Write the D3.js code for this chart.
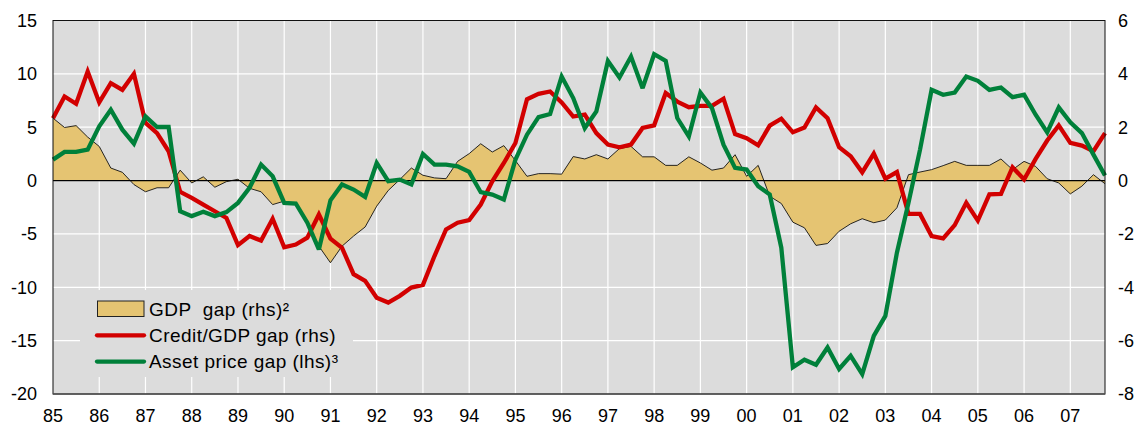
<!DOCTYPE html>
<html>
<head>
<meta charset="utf-8">
<script src="https://cdn.jsdelivr.net/npm/d3@7"></script>
<style>
  body { margin: 0; background: #ffffff; }
  text { font-family: "Liberation Sans", Arial, sans-serif; fill: #000000; white-space: pre; }
</style>
</head>
<body>
<div id="chart"></div>
<script>
// quarterly data, 1985 Q1 to 2007 Q4
const startYear = 1985;

// GDP gap, right-hand scale
const gdpGap = [
  2.34, 1.99, 2.06, 1.63, 1.28, 0.47, 0.31, -0.15, -0.42, -0.27, -0.27, 0.39,
  -0.09, 0.14, -0.25, -0.04, 0.05, -0.29, -0.42, -0.90, -0.77, -0.90, -1.58, -2.46,
  -3.08, -2.46, -2.08, -1.74, -0.96, -0.37, 0.04, 0.47, 0.20, 0.10, 0.07, 0.72,
  1.01, 1.38, 1.07, 1.31, 0.75, 0.16, 0.26, 0.26, 0.24, 0.90, 0.81, 0.97,
  0.81, 1.20, 1.28, 0.89, 0.89, 0.57, 0.57, 0.89, 0.66, 0.39, 0.47, 0.97,
  0.16, 0.57, -0.59, -0.86, -1.56, -1.77, -2.43, -2.36, -1.90, -1.62, -1.43, -1.58,
  -1.48, -1.02, 0.22, 0.32, 0.41, 0.56, 0.72, 0.57, 0.57, 0.57, 0.81, 0.41,
  0.72, 0.53, 0.07, -0.09, -0.50, -0.21, 0.22, -0.12
];

// Credit/GDP gap, right-hand scale
const creditGap = [
  2.34, 3.15, 2.88, 4.09, 2.93, 3.65, 3.40, 4.00, 2.16, 1.78, 1.10, -0.42,
  -0.65, -0.90, -1.15, -1.40, -2.42, -2.08, -2.25, -1.43, -2.50, -2.40, -2.14, -1.27,
  -2.18, -2.52, -3.51, -3.76, -4.39, -4.57, -4.32, -4.01, -3.91, -2.83, -1.83, -1.58,
  -1.48, -0.90, -0.03, 0.66, 1.41, 3.05, 3.25, 3.34, 2.93, 2.40, 2.47, 1.78,
  1.35, 1.25, 1.35, 1.97, 2.07, 3.28, 2.96, 2.75, 2.80, 2.80, 3.07, 1.74,
  1.59, 1.32, 2.06, 2.32, 1.81, 1.99, 2.74, 2.34, 1.25, 0.91, 0.31, 1.01,
  0.07, 0.32, -1.25, -1.25, -2.08, -2.17, -1.67, -0.83, -1.50, -0.52, -0.50, 0.50,
  0.04, 0.81, 1.50, 2.07, 1.41, 1.31, 1.10, 1.78
];

// Asset price gap, left-hand scale
const assetGap = [
  1.96, 2.68, 2.68, 2.90, 5.08, 6.64, 4.77, 3.46, 6.01, 5.02, 5.02, -2.87,
  -3.33, -2.93, -3.33, -2.96, -2.09, -0.68, 1.50, 0.40, -2.09, -2.15, -3.95, -6.45,
  -1.85, -0.37, -0.84, -1.53, 1.65, -0.06, 0.09, -0.37, 2.49, 1.50, 1.50, 1.34,
  0.81, -1.09, -1.31, -1.78, 1.96, 4.30, 5.95, 6.23, 9.75, 7.73, 4.92, 6.48,
  11.21, 9.66, 11.62, 8.66, 11.84, 11.21, 5.86, 4.14, 8.25, 6.79, 3.36, 1.19,
  1.03, -0.53, -1.31, -6.29, -17.50, -16.79, -17.26, -15.64, -17.66, -16.42, -18.13, -14.55,
  -12.68, -6.76, -2.09, 2.90, 8.50, 8.04, 8.25, 9.75, 9.35, 8.50, 8.72, 7.82,
  8.04, 6.17, 4.52, 6.85, 5.45, 4.45, 2.43, 0.47
];

const years = d3.range(1985, 2008);
const leftTicks = [15, 10, 5, 0, -5, -10, -15, -20];
const rightTicks = [6, 4, 2, 0, -2, -4, -6, -8];

const legendItems = [
  { label: "GDP  gap (rhs)²", type: "area" },
  { label: "Credit/GDP gap (rhs)", type: "credit" },
  { label: "Asset price gap (lhs)³", type: "asset" }
];

//set svg parameters
const width = 1136,
      height = 425;
const plot = { left: 53, right: 1105, top: 20.5, bottom: 394 };

const colors = {
  bg: "#dcdcdc",
  gdp: "#e5c472",
  credit: "#d20000",
  asset: "#00803a"
};

const svg = d3.select("#chart")
  .append("svg")
    .attr("width", width)
    .attr("height", height);

// scales
const x = d3.scaleLinear()
  .domain([startYear, startYear + (gdpGap.length - 1) / 4])
  .range([plot.left, plot.right]);

const yLeft = d3.scaleLinear()
  .domain([-20, 15])
  .range([plot.bottom, plot.top]);

const yRight = d3.scaleLinear()
  .domain([-8, 6])
  .range([plot.bottom, plot.top]);

const t = (d, i) => startYear + i / 4;

// plot background
svg.append("rect")
  .attr("x", plot.left)
  .attr("y", plot.top)
  .attr("width", plot.right - plot.left)
  .attr("height", plot.bottom - plot.top)
  .attr("fill", colors.bg);

// grid lines
const grid = svg.append("g").attr("stroke", "#ffffff").attr("stroke-width", 1.2);
grid.selectAll(".hgrid")
  .data(leftTicks.filter(d => d > -20 && d < 15))
  .join("line")
    .attr("x1", plot.left)
    .attr("x2", plot.right)
    .attr("y1", d => yLeft(d))
    .attr("y2", d => yLeft(d));
grid.selectAll(".vgrid")
  .data(years.filter(d => d > 1985))
  .join("line")
    .attr("x1", d => x(d))
    .attr("x2", d => x(d))
    .attr("y1", plot.top)
    .attr("y2", plot.bottom);

// legend box covers the grid
svg.append("rect")
  .attr("x", 80)
  .attr("y", 290)
  .attr("width", 273)
  .attr("height", 87)
  .attr("fill", colors.bg);

// GDP gap area
const area = d3.area()
  .x((d, i) => x(t(d, i)))
  .y0(yRight(0))
  .y1(d => yRight(d));

svg.append("path")
  .datum(gdpGap)
  .attr("d", area)
  .attr("fill", colors.gdp);

svg.append("path")
  .datum(gdpGap)
  .attr("d", d3.line().x((d, i) => x(t(d, i))).y(d => yRight(d)))
  .attr("fill", "none")
  .attr("stroke", "#111111")
  .attr("stroke-width", 0.9);

// zero line
svg.append("line")
  .attr("x1", plot.left)
  .attr("x2", plot.right)
  .attr("y1", yLeft(0))
  .attr("y2", yLeft(0))
  .attr("stroke", "#000000")
  .attr("stroke-width", 1.2);

// credit gap line
svg.append("path")
  .datum(creditGap)
  .attr("d", d3.line().x((d, i) => x(t(d, i))).y(d => yRight(d)))
  .attr("fill", "none")
  .attr("stroke", colors.credit)
  .attr("stroke-width", 4.3)
  .attr("stroke-linejoin", "miter")
  .attr("stroke-miterlimit", 3);

// asset price gap line
svg.append("path")
  .datum(assetGap)
  .attr("d", d3.line().x((d, i) => x(t(d, i))).y(d => yLeft(d)))
  .attr("fill", "none")
  .attr("stroke", colors.asset)
  .attr("stroke-width", 4.3)
  .attr("stroke-linejoin", "miter")
  .attr("stroke-miterlimit", 3);

// frame
svg.append("rect")
  .attr("x", plot.left)
  .attr("y", plot.top)
  .attr("width", plot.right - plot.left)
  .attr("height", plot.bottom - plot.top)
  .attr("fill", "none")
  .attr("stroke", "#111111")
  .attr("stroke-width", 1);
svg.append("line")
  .attr("x1", plot.left)
  .attr("x2", plot.right)
  .attr("y1", plot.bottom)
  .attr("y2", plot.bottom)
  .attr("stroke", "#555555")
  .attr("stroke-width", 1.6);

// axes labels
svg.append("g")
  .selectAll("text")
  .data(leftTicks)
  .join("text")
    .attr("x", 37)
    .attr("y", d => yLeft(d))
    .attr("dy", "0.35em")
    .attr("text-anchor", "end")
    .style("font-size", "18px")
    .text(d => d);

svg.append("g")
  .selectAll("text")
  .data(rightTicks)
  .join("text")
    .attr("x", 1118)
    .attr("y", d => yRight(d))
    .attr("dy", "0.35em")
    .attr("text-anchor", "start")
    .style("font-size", "18px")
    .text(d => d);

svg.append("g")
  .selectAll("text")
  .data(years)
  .join("text")
    .attr("x", d => x(d))
    .attr("y", 422)
    .attr("text-anchor", "middle")
    .style("font-size", "18px")
    .text(d => String(d).slice(2));

// legend
const legend = svg.append("g");
legendItems.forEach(function(item, i) {
  const cy = 309 + i * 26.3;
  if (item.type === "area") {
    legend.append("rect")
      .attr("x", 97.5)
      .attr("y", cy - 8)
      .attr("width", 46.5)
      .attr("height", 15.5)
      .attr("fill", colors.gdp)
      .attr("stroke", "#222222")
      .attr("stroke-width", 1);
  } else {
    legend.append("line")
      .attr("x1", 97)
      .attr("x2", 144)
      .attr("y1", cy)
      .attr("y2", cy)
      .attr("stroke", item.type === "credit" ? colors.credit : colors.asset)
      .attr("stroke-width", 4.3)
      .attr("stroke-linecap", "round");
  }
  legend.append("text")
    .attr("x", 149)
    .attr("y", cy + 6.8)
    .style("font-size", "19px")
    .style("letter-spacing", "0.45px")
    .text(item.label);
});
</script>
</body>
</html>
